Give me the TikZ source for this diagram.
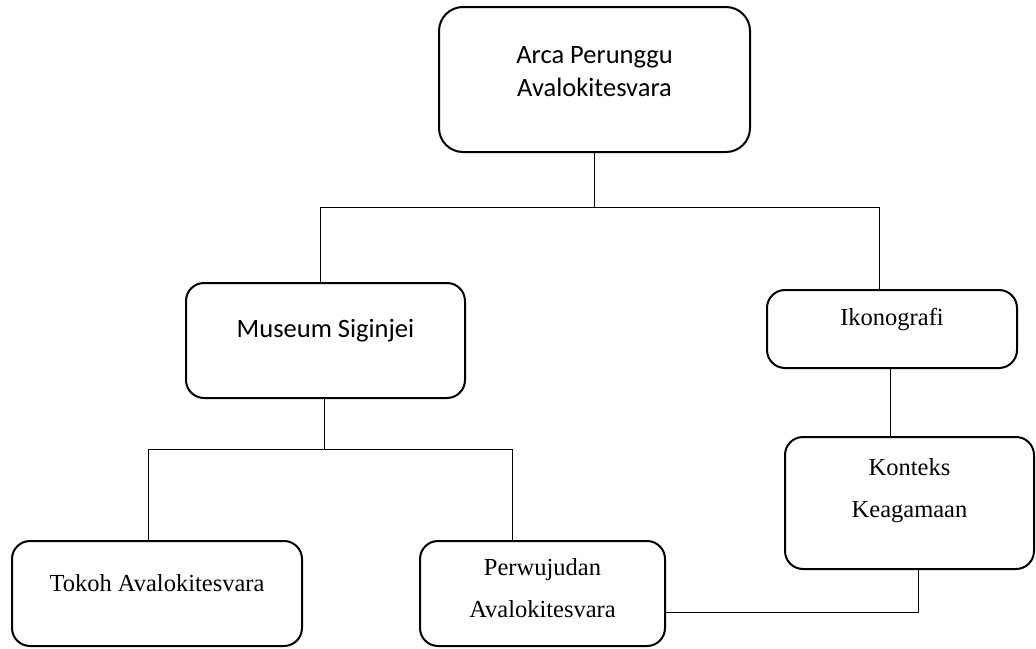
\documentclass[tikz,border=0pt]{standalone}
\usepackage{fontspec}
\setmainfont{Liberation Serif}
\newfontfamily\calfont{Carlito}
\begin{document}
\begin{tikzpicture}[x=1pt,y=-1pt,
  boxA/.style={draw,line width=2pt,rounded corners=24pt,inner sep=0pt},
  boxB/.style={draw,line width=2pt,rounded corners=18pt,inner sep=0pt},
  conn/.style={line width=1pt},
  calt/.style={font=\calfont\fontsize{26.5}{33}\selectfont,align=center,inner sep=0pt},
  timt/.style={font=\fontsize{24.5}{42}\selectfont,align=center,inner sep=0pt}]
\useasboundingbox (0,0) rectangle (1036,648);
% boxes
\node[boxA,minimum width=311pt,minimum height=145pt] (A) at (594.5,79.5) {};
\node[boxB,minimum width=279pt,minimum height=115pt] (M) at (325.5,340.5) {};
\node[boxB,minimum width=250pt,minimum height=78pt] (I) at (892,329) {};
\node[boxB,minimum width=249pt,minimum height=132pt] (K) at (909.5,503) {};
\node[boxB,minimum width=290pt,minimum height=105pt] (T) at (157,593.5) {};
\node[boxB,minimum width=245pt,minimum height=105pt] (P) at (542.5,593.5) {};
% texts
\node[calt] (tA) at (594.5,71.5) {Arca Perunggu\\Avalokitesvara};
\node[calt] (tM) at (325.5,331) {Museum Siginjei};
\node[timt] (tI) at (892,320) {Ikonografi};
\node[timt] (tK) at (909.5,491) {Konteks\\Keagamaan};
\node[timt] (tT) at (157,583) {Tokoh Avalokitesvara};
\node[timt] (tP) at (542.5,588.5) {Perwujudan\\Avalokitesvara};
% junction coordinates
\coordinate (j1) at (594.5,207);
\coordinate (h1l) at (320,207);
\coordinate (h1r) at (879,207);
\coordinate (j2) at (324,449);
\coordinate (h2l) at (148,449);
\coordinate (h2r) at (512,449);
\coordinate (kc) at (918,612);
% connectors
\draw[conn] (A.south) -- (j1);
\draw[conn] (h1l) -- (h1r);
\draw[conn] (h1l) -- (h1l |- M.north);
\draw[conn] (h1r) -- (h1r |- I.north);
\draw[conn] (M.south -| j2) -- (j2);
\draw[conn] (h2l) -- (h2r);
\draw[conn] (h2l) -- (h2l |- T.north);
\draw[conn] (h2r) -- (h2r |- P.north);
\draw[conn] (I.south -| 890,0) -- (K.north -| 890,0);
\draw[conn] (K.south -| kc) -- (kc) -- (P.east |- kc);
\end{tikzpicture}
\end{document}
